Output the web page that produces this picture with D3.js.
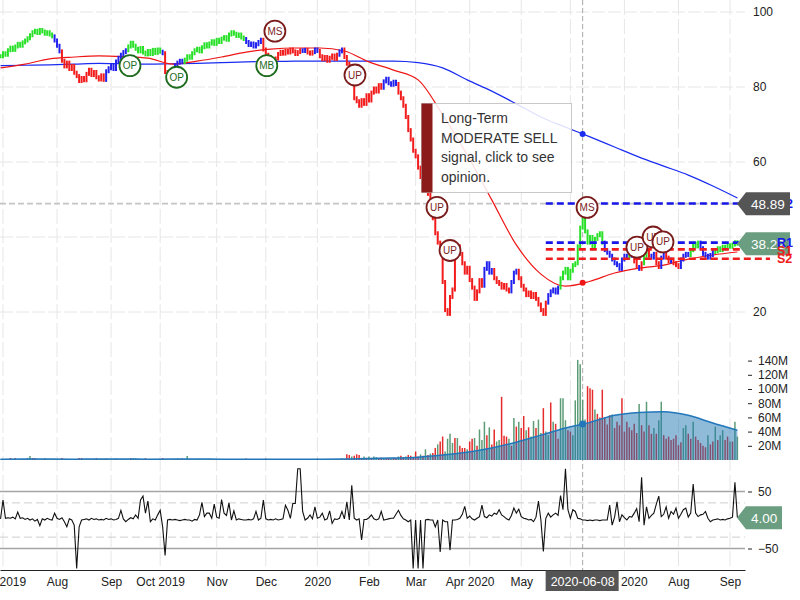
<!DOCTYPE html>
<html>
<head>
<meta charset="utf-8">
<script src="https://d3js.org/d3.v7.min.js"></script>
<style>
  html,body{margin:0;padding:0;background:#fff;}
  svg{display:block;font-family:"Liberation Sans",Arial,Helvetica,sans-serif;}
  .axis text{font-size:12px;fill:#222;}
  .axis path,.axis line{stroke:#222;}
</style>
</head>
<body>
<svg id="chart" width="800" height="600"></svg>
<script>
// ================= DATA =================
// daily closes, one per trading day (index 0 = 2019-06-28 ... 300 = 2020-09-04)
const closes = [
  88.2,89.0,88.6,89.8,90.5,89.9,90.8,91.5,91.0,91.9,
  92.4,93.0,93.8,94.6,95.0,94.4,95.2,94.8,94.2,94.6,
  94.0,93.5,92.4,91.0,89.5,87.0,85.5,86.5,84.8,85.6,
  83.8,82.9,81.6,82.4,81.8,83.5,84.6,83.2,84.0,82.6,
  82.0,83.1,81.9,84.2,85.0,85.6,84.8,86.8,87.8,88.6,
  89.3,89.8,90.8,91.8,91.0,90.2,89.5,90.4,89.2,88.7,
  89.6,88.8,89.9,89.1,90.0,89.4,89.0,84.0,82.0,83.0,
  84.5,85.8,86.5,87.0,86.6,87.3,88.2,87.8,89.0,89.8,
  90.2,89.5,90.6,91.4,90.8,91.6,92.2,91.5,92.6,92.0,
  92.9,93.3,92.6,94.0,94.6,94.2,93.6,94.0,93.2,92.8,
  92.0,91.2,91.6,90.8,91.4,92.0,92.6,90.0,88.6,88.0,
  87.2,86.5,87.6,88.8,89.4,88.9,89.6,89.2,90.0,89.5,
  88.8,89.3,89.8,89.6,89.9,89.2,88.9,89.3,90.0,89.6,
  88.2,87.4,88.0,87.0,87.8,88.4,87.5,88.6,89.5,90.0,
  88.0,86.2,85.0,81.0,77.0,76.2,75.0,76.5,75.5,77.8,
  76.4,78.5,79.6,78.8,80.5,79.8,81.5,82.2,81.0,80.6,
  81.4,80.8,78.5,77.0,75.0,72.0,68.5,66.0,63.0,61.5,
  58.5,56.0,53.5,55.0,51.5,49.0,45.0,41.0,38.5,36.0,
  28.0,20.5,19.5,24.0,26.0,35.0,37.5,35.5,33.0,30.5,
  31.8,28.5,26.5,23.5,25.5,28.5,27.0,31.5,33.0,30.5,
  31.2,29.0,28.0,27.5,26.5,27.2,26.0,25.5,28.0,30.5,
  31.0,29.0,27.0,26.0,24.5,25.2,24.0,24.8,23.5,22.0,
  20.5,19.5,22.5,24.5,25.5,26.0,25.2,26.5,29.0,30.5,
  31.5,29.0,31.0,32.5,33.0,37.5,42.5,45.0,41.5,38.5,
  40.0,37.0,39.5,40.5,41.0,38.5,36.5,35.8,35.0,34.0,
  33.0,32.5,31.5,34.0,35.0,34.5,36.0,35.0,33.5,32.0,
  31.5,33.0,35.0,36.0,35.0,34.5,35.5,33.0,32.0,34.5,
  36.0,34.5,33.5,34.0,33.0,32.5,32.0,34.0,35.0,35.5,
  35.2,36.5,38.2,37.5,38.5,37.0,35.5,35.0,34.5,35.2,
  36.0,36.2,37.0,36.5,37.4,37.0,37.8,37.4,38.0,38.6,
  38.22
];
// bar signal colour, run-length: g = bullish, b = neutral, r = bearish
const barColorRuns = [
  ["g",22],["b",3],["r",18],["b",9],["g",14],["b",1],["r",3],["b",5],["g",25],["b",7],
  ["r",16],["b",2],["r",3],["b",2],["r",8],["b",2],["r",16],["b",6],["r",35],["b",4],
  ["r",7],["b",3],["r",12],["b",5],["g",18],["b",10],
  ["g",1],["b",1],["r",2],["b",1],["r",1],["g",2],["r",1],["b",2],["r",2],["b",2],["r",2],["b",1],["r",3],["b",4],
  ["g",4],["b",6],["g",10]
];
// daily volume, millions
const volumes = [
  1.0,0.8,1.2,0.9,2.8,1.1,2.8,0.9,1.0,1.5,
  1.2,3.0,5.6,2.8,2.8,1.0,0.8,1.2,2.0,0.9,
  1.0,0.8,1.3,1.0,1.1,2.8,1.2,0.9,1.0,0.8,
  1.0,1.2,2.8,2.8,1.0,0.9,1.1,0.8,1.0,2.5,
  1.0,0.9,1.2,2.0,1.0,0.8,1.1,2.0,0.9,1.0,
  1.2,0.8,1.0,2.5,2.5,2.5,0.9,1.0,1.1,2.5,
  1.0,0.8,0.9,1.2,1.0,1.1,2.8,1.0,0.9,0.8,
  1.0,1.2,2.0,0.9,2.0,1.0,5.6,1.1,0.8,1.0,
  0.9,1.0,1.2,0.8,1.0,0.9,1.1,1.0,0.8,1.2,
  1.0,0.9,1.1,0.8,1.0,1.2,0.9,1.0,0.8,1.1,
  2.0,1.0,0.9,1.2,0.8,1.0,1.1,0.9,2.0,1.0,
  0.8,1.2,1.0,0.9,1.1,0.8,1.0,1.2,0.9,1.0,
  1.1,0.9,1.5,1.0,0.8,1.2,1.0,0.9,1.1,2.0,
  1.0,1.2,0.9,1.5,1.0,0.8,1.1,1.5,1.0,2.0,
  1.5,8.0,7.0,5.0,6.0,8.0,7.0,3.0,5.0,3.0,
  5.0,2.5,5.0,4.0,2.5,3.0,2.0,2.5,3.0,2.0,
  3.0,2.5,5.0,6.0,4.0,5.0,7.0,6.0,4.0,12.0,
  5.0,8.0,6.0,15.0,7.0,9.0,10.0,17.0,22.0,26.0,
  33.0,12.0,30.0,37.0,24.0,31.0,31.0,20.0,17.0,17.0,
  15.0,26.0,30.0,31.0,20.0,43.0,28.0,54.0,35.0,46.0,
  22.0,43.0,26.0,28.0,89.0,34.0,33.0,30.0,20.0,59.0,
  47.0,54.0,45.0,62.0,42.0,46.0,33.0,55.0,45.0,57.0,
  38.0,73.0,40.0,35.0,81.0,54.0,51.0,30.0,87.0,87.0,
  56.0,42.0,40.0,35.0,84.0,141.0,135.0,85.0,57.0,104.0,
  101.0,99.0,71.0,65.0,60.0,99.0,60.0,50.0,63.0,64.0,
  45.0,54.0,49.0,87.0,40.0,54.0,46.0,42.0,51.0,38.0,
  79.0,49.0,40.0,82.0,49.0,37.0,45.0,37.0,56.0,82.0,
  35.0,30.0,33.0,28.0,30.0,35.0,21.0,25.0,45.0,49.0,
  37.0,30.0,54.0,33.0,28.0,24.0,20.0,18.0,35.0,22.0,
  26.0,47.0,28.0,35.0,42.0,28.0,33.0,26.0,26.0,54.0,
  33.0
];
// volume bar direction per day: g = up, r = down
const volumeDir =
  "ggrgrgrggr" + "rggrrgrgrg" + "grrgrrgrgr" + "grrrgrgrgr" + "grgrggrgrg" +
  "grgrggrgrr" + "grgrgrrgrg" + "grgrrggrgg" + "grgrgrgrgr" + "grgrgrgrgr" +
  "rgrgrgrgrg" + "grgrgrgrgr" + "grgrgrgrgr" + "grgrgrgrgg" + "rrrgrrrrgr" +
  "grggrrgrrg" + "rrgrrgrrrr" + "rgrgrgrrgr" + "rggggrgrrr" + "grrgrgggrg" +
  "rrggrrrgrg" + "rgrrgrggrg" + "grggrgrrgg" + "grrggggggr" + "rrgrrrrrrg" +
  "rrrrrrrrrr" + "grrgrrgrgg" + "rrrrrrrrgg" + "rrgrrrrrgr" + "rgrggrrgrg" + "g";
// lower oscillator, daily
const oscValues = [
  2,35,3,4,3,5,2,14,3,4,
  1,3,0,2,-2,1,-10,2,0,3,
  1,0,12,3,1,4,-3,-12,2,0,
  -9,-85,-12,0,1,2,0,3,1,2,
  0,1,0,3,1,2,0,1,3,17,
  2,-3,1,4,2,9,3,35,42,12,
  33,-3,2,0,9,17,-12,-62,0,1,
  0,1,0,-1,0,1,0,0,-2,1,
  0,9,31,6,12,12,3,28,5,3,
  36,12,8,30,0,16,0,2,1,0,
  0,1,0,2,15,0,3,35,2,0,
  1,0,2,0,1,2,26,17,3,29,
  29,90,90,15,0,3,9,2,23,3,
  5,12,0,2,16,-6,2,1,3,15,
  2,32,0,61,3,0,2,-35,1,1,
  4,9,2,0,2,15,0,1,2,3,
  3,10,17,8,2,0,-3,0,-85,0,
  -85,0,-85,0,1,0,0,-12,0,-56,
  0,-3,-3,-53,0,0,1,3,10,24,
  3,7,2,0,3,6,26,6,4,9,
  7,12,10,18,9,6,2,0,8,21,
  12,19,6,3,2,0,1,-3,5,33,
  0,-55,3,12,5,9,12,8,43,18,
  90,18,3,18,15,3,2,0,0,-1,
  0,-1,0,0,-1,0,0,0,26,-9,
  5,32,-3,9,4,0,6,5,12,20,
  -3,75,-9,23,3,8,12,28,42,6,
  10,23,3,15,10,21,3,10,18,21,
  5,12,63,12,6,9,10,15,3,-3,
  0,1,2,0,1,0,2,3,5,66,
  4
];
// moving averages sampled every 10 trading days (index 0,10,...,300)
const maStep = 10;
const maFast = [85.1,86.1,87.5,88.0,88.3,88.1,87.7,86.1,86.9,88.0,89.3,90.1,90.4,90.4,89.6,86.7,
                84.5,81.9,72.6,61.9,49.9,37.9,30.1,26.9,28.2,30.4,31.7,32.5,34.1,35.2,36.0];
const maSlow = [85.7,85.8,85.9,86.1,86.3,86.2,86.1,86.2,86.3,86.5,86.7,86.8,86.9,86.9,86.9,86.9,
                86.9,86.5,85.1,81.9,78.9,75.5,72.0,69.3,66.7,64.0,61.3,58.9,56.5,53.6,50.4];
const volAvg = [1.2,1.3,1.3,1.2,1.3,1.3,1.2,1.3,1.3,1.2,1.2,1.2,1.2,1.2,1.4,2.2,
                2.8,4.0,7.0,11.0,17.0,25.0,35.0,45.0,53.0,63.0,67.0,68.0,63.0,52.0,42.0];
// axis ticks
const monthIdx = [1,23,45,65,88,108,129,150,169,191,212,232,254,276,297];
const monthLabels = ["Jul 2019","Aug","Sep","Oct 2019","Nov","Dec","2020","Feb","Mar","Apr 2020","May","Jun","Jul 2020","Aug","Sep"];
const priceTicks = [20,40,60,80,100];
const volTicks = [20,40,60,80,100,120,140];
const oscTicks = [-50,50];
const oscBands = [-30,30];
// pivot levels
const pivotNames = ["R2","R1","S1","S2"];
const pivotValues = [48.95,38.5,36.7,34.2];
const pivotStartIdx = 222;
// signal markers
const signalIdx   = [52.7,71.7,108.4,111.7,144.3,177.7,183,238.8,259.1,265.7,269.7];
const signalPrice = [85.7,82.6,85.7,94.9,83.2,47.9,36.4,47.9,37.3,40.0,38.7];
const signalLabels= ["OP","OP","MB","MS","UP","UP","UP","MS","UP","UP","UP"];
// crosshair / tooltip
const crossIdx = 237, crossDate = "2020-06-08", crossPrice = 48.89;
const tooltipLines = ["Long-Term","MODERATE SELL","signal, click to see","opinion."];

// ================= DRAWING =================
const svg = d3.select("#chart");
const plotW = 745;
const x  = d3.scaleLinear().domain([-0.22, 303.1]).range([0, plotW]);
const yP = d3.scaleLinear().domain([20,100]).range([312,12]);
const yV = d3.scaleLinear().domain([0,140]).range([460,360.6]);
const yO = d3.scaleLinear().domain([-50,50]).range([548.5,491.5]);

const barColors = barColorRuns.flatMap(([c,n]) => Array(n).fill(c));
const colorMap = {g:"#27e027", b:"#2222ee", r:"#f21c1c"};
const bull = t => t==="OP" || t==="MB";
const lastClose = closes[closes.length-1];

const defs = svg.append("defs");
defs.append("clipPath").attr("id","clipP").append("rect").attr("x",0).attr("y",0).attr("width",plotW).attr("height",338);
defs.append("clipPath").attr("id","clipO").append("rect").attr("x",0).attr("y",464).attr("width",plotW).attr("height",105);

// grid
const grid = svg.append("g");
grid.selectAll("line.vg").data(monthIdx).join("line").attr("class","vg")
  .attr("x1",d=>x(d)).attr("x2",d=>x(d)).attr("y1",0).attr("y2",569)
  .attr("stroke","#e6e6e6").attr("stroke-dasharray","15,4");
grid.selectAll("line.hg").data(priceTicks).join("line").attr("class","hg")
  .attr("x1",0).attr("x2",plotW).attr("y1",d=>yP(d)).attr("y2",d=>yP(d))
  .attr("stroke","#e6e6e6").attr("stroke-dasharray","13,3");

// crosshair
svg.append("line").attr("x1",x(crossIdx)).attr("x2",x(crossIdx)).attr("y1",0).attr("y2",570)
  .attr("stroke","#a8a8a8").attr("stroke-dasharray","5,3");
svg.append("line").attr("x1",0).attr("x2",737).attr("y1",yP(crossPrice)).attr("y2",yP(crossPrice))
  .attr("stroke","#c4c4c4").attr("stroke-width",1.6).attr("stroke-dasharray","6,3");

const pg = svg.append("g").attr("clip-path","url(#clipP)");
const maLine = d3.line().x((d,i)=>x(i*maStep)).y(d=>yP(d)).curve(d3.curveMonotoneX);
pg.append("path").attr("d",maLine(maSlow)).attr("fill","none").attr("stroke","#1a2cf0").attr("stroke-width",1.2);
pg.append("path").attr("d",maLine(maFast)).attr("fill","none").attr("stroke","#ee1515").attr("stroke-width",1.2);

// price bars
pg.append("g").selectAll("line").data(closes).join("line")
  .attr("x1",(d,k)=>x(k)).attr("x2",(d,k)=>x(k))
  .attr("y1",(d,k)=>yP(Math.max(d, k?closes[k-1]:d))-2)
  .attr("y2",(d,k)=>yP(Math.min(d, k?closes[k-1]:d))+2)
  .attr("stroke",(d,k)=>colorMap[barColors[k]]).attr("stroke-width",2);

// pivot lines
const pivColor = n => n[0]==="R" ? "#1616e8" : "#ee1c1c";
svg.append("g").selectAll("line").data(pivotValues).join("line")
  .attr("x1",x(pivotStartIdx)).attr("x2",770)
  .attr("y1",d=>yP(d)).attr("y2",d=>yP(d))
  .attr("stroke",(d,i)=>pivColor(pivotNames[i])).attr("stroke-width",2.6).attr("stroke-dasharray","7,4");

// signals
const sig = svg.append("g").selectAll("g")
  .data(signalIdx.map((k,i)=>({k, p:signalPrice[i], t:signalLabels[i]})))
  .join("g").attr("transform",d=>`translate(${x(d.k)},${yP(d.p)})`);
sig.append("circle").attr("r",10.5).attr("fill","#fff")
  .attr("stroke",d=>bull(d.t)?"#1d6b1d":"#7a1c1c").attr("stroke-width",1.8);
sig.append("text").attr("text-anchor","middle").attr("dy","0.36em").attr("font-size",10)
  .attr("fill",d=>bull(d.t)?"#1d6b1d":"#7a1c1c").text(d=>d.t);

// crosshair dots
const interp = (arr,k)=>{const i=Math.floor(k/maStep), f=k/maStep-i; return arr[i]*(1-f)+arr[Math.min(i+1,arr.length-1)]*f;};
svg.append("circle").attr("cx",x(crossIdx)).attr("cy",yP(interp(maSlow,crossIdx))).attr("r",3).attr("fill","#1a2cf0");
svg.append("circle").attr("cx",x(crossIdx)).attr("cy",yP(interp(maFast,crossIdx))).attr("r",3).attr("fill","#ee1515");

// tooltip
const tt = svg.append("g");
tt.append("rect").attr("x",421.5).attr("y",103.5).attr("width",150).attr("height",89)
  .attr("fill","#fff").attr("fill-opacity",0.86).attr("stroke","#c8c8c8");
tt.append("rect").attr("x",421.5).attr("y",103.5).attr("width",11).attr("height",89).attr("fill","#8b1a1a");
tt.selectAll("text").data(tooltipLines).join("text")
  .attr("x",441).attr("y",(d,i)=>123+i*19.7).attr("font-size",14).attr("fill","#333").text(d=>d);

// volume
const vg = svg.append("g");
vg.selectAll("line").data(volumes).join("line")
  .attr("x1",(d,k)=>x(k)).attr("x2",(d,k)=>x(k))
  .attr("y1",yV(0)).attr("y2",d=>yV(d))
  .attr("stroke",(d,k)=>volumeDir[k]==="g"?"#5b9c76":"#e52b2b").attr("stroke-width",1.5);
const vArea = d3.area().x((d,i)=>x(i*maStep)).y0(yV(0)).y1(d=>yV(d)).curve(d3.curveMonotoneX);
const vLine = d3.line().x((d,i)=>x(i*maStep)).y(d=>yV(d)).curve(d3.curveMonotoneX);
vg.append("path").attr("d",vArea(volAvg)).attr("fill","#1f77b4").attr("fill-opacity",0.5);
vg.append("path").attr("d",vLine(volAvg)).attr("fill","none").attr("stroke","#2277bb").attr("stroke-width",1.5);
svg.append("circle").attr("cx",x(crossIdx)).attr("cy",yV(interp(volAvg,crossIdx))).attr("r",3.5).attr("fill","#2277bb");

// oscillator
const og = svg.append("g");
og.selectAll("line.band").data(oscBands).join("line").attr("class","band")
  .attr("x1",0).attr("x2",plotW).attr("y1",d=>yO(d)).attr("y2",d=>yO(d))
  .attr("stroke","#cfcfcf").attr("stroke-dasharray","8,4");
og.selectAll("line.lim").data(oscTicks).join("line").attr("class","lim")
  .attr("x1",0).attr("x2",plotW).attr("y1",d=>yO(d)).attr("y2",d=>yO(d))
  .attr("stroke","#a5a5a5").attr("stroke-width",1.5);
og.append("path").attr("clip-path","url(#clipO)")
  .attr("d",d3.line().x((d,k)=>x(k)).y(d=>yO(d))(oscValues))
  .attr("fill","none").attr("stroke","#111").attr("stroke-width",1.1);

// axes (labels that would sit under the crosshair date tag / last-price tag are hidden, as in the original)
const cx0 = x(crossIdx);
svg.append("g").attr("class","axis").attr("transform","translate(0,570)")
  .call(d3.axisBottom(x).tickValues(monthIdx)
        .tickFormat((d,i)=> Math.abs(x(d)-cx0) < 25 ? "" : monthLabels[i])
        .tickSize(0).tickSizeOuter(0).tickPadding(7))
  .call(g=>g.select(".domain").attr("stroke","#000"));
svg.append("g").attr("class","axis").attr("transform",`translate(${plotW},0)`)
  .call(d3.axisRight(yP).tickValues(priceTicks)
        .tickFormat(d=> Math.abs(yP(d)-yP(lastClose)) < 14 ? "" : d)
        .tickSize(0).tickPadding(8))
  .call(g=>g.select(".domain").remove());
svg.append("g").attr("class","axis").attr("transform","translate(748,0)")
  .call(d3.axisRight(yV).tickValues(volTicks).tickFormat(d=>d+"M").tickSize(4).tickPadding(6))
  .call(g=>g.select(".domain").remove());
svg.append("g").attr("class","axis").attr("transform","translate(748,0)")
  .call(d3.axisRight(yO).tickValues(oscTicks).tickSize(4).tickPadding(6))
  .call(g=>g.select(".domain").remove());

// crosshair date tag
svg.append("rect").attr("x",cx0-37).attr("y",570.5).attr("width",73).attr("height",20.5).attr("fill","#555");
svg.append("text").attr("x",cx0).attr("y",585.5).attr("text-anchor","middle").attr("fill","#fff")
  .attr("font-size",12.5).text(crossDate);

// value tags
function tag(yc, txt, fill, right){
  const g = svg.append("g");
  g.append("path").attr("d",`M737,${yc} L746,${yc-11.5} L${right},${yc-11.5} L${right},${yc+11.5} L746,${yc+11.5} Z`).attr("fill",fill);
  g.append("text").attr("x",751).attr("y",yc).attr("dy","0.36em").attr("fill","#fff").attr("font-size",13.5).text(txt);
}
function pivLabel(i, dy){
  svg.append("text").attr("x",777).attr("y",yP(pivotValues[i])+dy).attr("dy","0.36em")
    .attr("font-size",12.5).attr("font-weight","bold").attr("fill",pivColor(pivotNames[i])).text(pivotNames[i]);
}
pivLabel(0,0);
tag(yP(crossPrice), crossPrice.toFixed(2), "#555", 790);
tag(yP(lastClose), lastClose.toFixed(2), "#6b9e80", 790);
pivLabel(1,0); pivLabel(2,1); pivLabel(3,0);
tag(yO(oscValues[oscValues.length-1]), oscValues[oscValues.length-1].toFixed(2), "#6b9e80", 782);
</script>
</body>
</html>
